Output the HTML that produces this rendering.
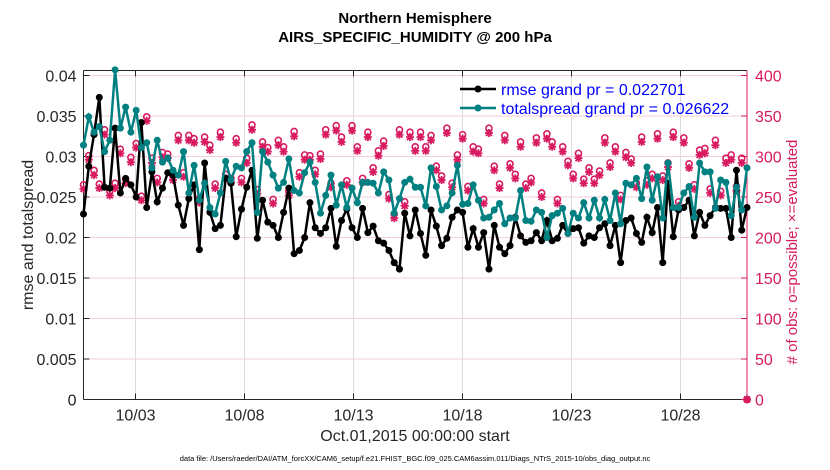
<!DOCTYPE html>
<html><head><meta charset="utf-8"><style>
body{margin:0;background:#fff;}
svg{display:block;font-family:"Liberation Sans",sans-serif;}
</style></head><body>
<svg id="chart" width="830" height="470"></svg>
<script>
const rmse=[22.9,28.8,32.7,37.3,26.2,26.1,33.5,25.5,27.3,26.5,25.0,34.2,23.7,28.1,24.4,26.1,28.0,27.7,24.0,21.5,24.8,26.5,18.5,29.2,23.1,21.1,21.5,27.3,26.7,20.1,23.5,26.2,28.3,
19.9,24.6,21.9,21.5,20.0,23.1,26.1,18.0,18.4,20.0,24.3,21.2,20.5,21.2,23.6,18.9,22.1,23.5,21.2,20.0,23.6,20.6,21.4,19.6,19.3,18.4,16.9,16.1,23.0,20.2,23.4,
20.5,17.8,23.4,21.4,19.0,19.9,22.5,23.4,23.1,18.8,21.1,18.8,20.6,16.1,21.5,18.8,18.0,19.0,22.5,20.2,19.4,19.6,20.6,19.6,22.1,19.6,19.9,21.5,20.5,21.1,21.2,19.3,20.2,
20.0,21.2,21.7,19.0,21.5,16.9,22.1,22.4,20.5,19.4,22.5,20.6,23.7,16.9,26.7,20.1,23.4,23.7,24.6,20.2,23.1,21.5,22.7,23.7,23.6,23.6,20.0,28.3,20.9,23.7];
const spread=[31.4,34.9,33.0,33.7,30.6,32.0,40.7,33.5,36.1,33.0,35.7,31.1,31.7,28.6,32.0,29.3,29.8,28.3,27.7,30.6,25.5,28.9,24.6,26.7,23.7,22.9,25.5,29.4,27.1,28.8,28.6,30.6,31.7,
23.1,30.6,29.3,27.7,26.1,26.8,29.7,25.8,25.5,28.0,29.3,26.8,23.0,25.2,27.7,24.0,26.5,23.7,26.1,24.3,26.8,26.8,26.7,25.5,28.1,27.1,23.0,24.8,26.8,27.2,26.2,
26.2,23.9,28.6,26.3,23.4,23.9,25.5,28.9,24.1,24.2,26.5,24.6,22.4,22.5,23.4,24.2,21.7,22.4,22.4,25.8,22.1,22.0,23.4,23.1,20.0,22.7,23.0,23.6,20.5,23.0,22.4,24.3,22.4,
24.6,22.4,24.7,22.1,25.5,21.7,26.7,26.5,27.3,24.8,28.7,24.6,27.5,22.4,29.2,23.7,23.7,25.5,26.3,22.5,29.2,28.1,28.1,23.6,27.1,26.8,22.7,26.2,23.4,28.6];
const evaluated=[260,296,277,261,327,252,261,304,267,293,311,246,344,292,268,299,298,271,320,275,320,317,243,318,308,261,324,273,268,317,268,292,333,
254,312,306,242,314,306,252,325,275,296,296,278,297,327,262,332,318,265,332,307,268,324,281,301,313,248,224,327,239,324,307,
324,307,320,283,271,329,262,296,322,258,306,304,242,329,283,261,320,286,273,312,261,268,317,250,322,312,242,306,289,273,298,267,281,
267,277,317,287,306,247,299,292,262,318,265,273,322,271,287,324,239,317,286,260,302,304,255,314,252,292,296,258,292,0];
const possible=[265,301,283,266,333,257,267,309,272,299,316,251,349,298,273,305,303,276,326,280,326,322,248,324,314,266,330,278,273,322,273,298,339,
259,318,311,247,320,312,257,331,280,302,301,283,303,333,267,338,324,270,338,312,273,330,286,307,319,253,229,333,244,330,312,
330,312,326,288,276,335,267,302,327,263,312,309,247,335,288,266,326,291,278,318,266,273,323,255,328,318,247,312,294,278,304,272,286,
272,282,323,292,312,252,305,297,267,324,270,278,328,276,292,330,244,323,291,265,308,310,260,320,257,298,302,263,298,0];
const leftTicks=[0,0.005,0.01,0.015,0.02,0.025,0.03,0.035,0.04];
const leftLabels=["0","0.005","0.01","0.015","0.02","0.025","0.03","0.035","0.04"];
const rightTicks=[0,50,100,150,200,250,300,350,400];
const xTickDays=[2,7,12,17,22,27];
const xTickLabels=["10/03","10/08","10/13","10/18","10/23","10/28"];

const NS="http://www.w3.org/2000/svg";
const svg=document.getElementById('chart');
const L=83.5,R=747,T=70.5,B=399.5;
const yL=v=>B-(v/0.04)*(B-75.5);
const yR=v=>B-(v/400)*(B-75.5);
const xI=i=>L+i*(R-L)/126;
const xD=d=>135.5+(d-2)*21.8;
function mk(tag,attrs,parent){const e=document.createElementNS(NS,tag);for(const k in attrs)e.setAttribute(k,attrs[k]);(parent||svg).appendChild(e);return e;}
function txt(s,attrs,parent){const e=mk('text',attrs,parent);e.textContent=s;return e;}

const grid=mk('g',{});


leftTicks.forEach(v=>{if(v>0)mk('line',{x1:L,x2:R,y1:yL(v),y2:yL(v),stroke:'#f3cfe0','stroke-width':1},grid);});
xTickDays.forEach(d=>mk('line',{x1:xD(d),x2:xD(d),y1:T,y2:B,stroke:'#dcdcdc','stroke-width':1},grid));

const ax=mk('g',{});


mk('line',{x1:L,x2:R,y1:T,y2:T,stroke:'#262626','stroke-width':1},ax);
mk('line',{x1:L,x2:R,y1:B,y2:B,stroke:'#262626','stroke-width':1},ax);
mk('line',{x1:L,x2:L,y1:T,y2:B,stroke:'#262626','stroke-width':1},ax);
mk('line',{x1:R,x2:R,y1:T,y2:B,stroke:'#d81b60','stroke-width':1},ax);
leftTicks.forEach((v,i)=>{
  mk('line',{x1:L,x2:L+6,y1:yL(v),y2:yL(v),stroke:'#262626'},ax);
  const t=txt(leftLabels[i],{x:L-7,y:yL(v)+6,'text-anchor':'end','font-size':16,fill:'#262626'},ax);
  
  
});
rightTicks.forEach(v=>{
  mk('line',{x1:R-6,x2:R,y1:yR(v),y2:yR(v),stroke:'#d81b60'},ax);
  const t=txt(String(v),{x:R+8,y:yR(v)+6,'font-size':16,fill:'#d81b60'},ax);
  
  
});
xTickDays.forEach((d,i)=>{
  mk('line',{x1:xD(d),x2:xD(d),y1:B,y2:B-6,stroke:'#262626'},ax);
  mk('line',{x1:xD(d),x2:xD(d),y1:T,y2:T+6,stroke:'#262626'},ax);
  const t=txt(xTickLabels[i],{x:xD(d),y:B+21,'text-anchor':'middle','font-size':16,fill:'#262626'},ax);
  
  
});

const obs=mk('g',{});


possible.forEach((v,i)=>{
  const c=mk('circle',{cx:xI(i),cy:yR(v),r:3,fill:'none',stroke:'#d81b60','stroke-width':1.6},obs);
  
  
});
evaluated.forEach((v,i)=>{
  const x=xI(i),y=yR(v);
  const g=mk('g',{stroke:'#d81b60','stroke-width':1.8},obs);
  
  
  mk('line',{x1:x-4,x2:x+4,y1:y,y2:y},g);
  mk('line',{x1:x,x2:x,y1:y-4,y2:y+4},g);
  mk('line',{x1:x-3,x2:x+3,y1:y-3,y2:y+3},g);
  mk('line',{x1:x-3,x2:x+3,y1:y+3,y2:y-3},g);
  mk('circle',{cx:x,cy:y,r:2,fill:'#d81b60',stroke:'none'},g);
});

function series(arr,color,name){
  const g=mk('g',{});
  
  
  const pts=arr.map((v,i)=>xI(i).toFixed(1)+','+yL(v/1000).toFixed(1)).join(' ');
  mk('polyline',{points:pts,fill:'none',stroke:color,'stroke-width':2.5},g);
  arr.forEach((v,i)=>{
    const c=mk('circle',{cx:xI(i),cy:yL(v/1000),r:3.5,fill:color},g);
    
    
  });
}
series(rmse,'#000000','rmse-line');
series(spread,'#008080','totalspread-line');

const lg=mk('g',{});


[['#000000','rmse grand pr = 0.022701',89],['#008080','totalspread grand pr = 0.026622',108]].forEach(([c,s,y])=>{
  mk('line',{x1:460,x2:496,y1:y,y2:y,stroke:c,'stroke-width':2.5},lg);
  mk('circle',{cx:478,cy:y,r:3.5,fill:c},lg);
  const t=txt(s,{x:501,y:y+6,'font-size':16,fill:'#0000ff'},lg);
  
  
});

const t1=txt('Northern Hemisphere',{x:415,y:23,'text-anchor':'middle','font-size':15,'font-weight':'bold',fill:'#000'});


const t2=txt('AIRS_SPECIFIC_HUMIDITY @ 200 hPa',{x:415,y:42,'text-anchor':'middle','font-size':15,'font-weight':'bold',fill:'#000'});


const xl=txt('Oct.01,2015 00:00:00 start',{x:415,y:441,'text-anchor':'middle','font-size':16,fill:'#262626'});


const yl=txt('rmse and totalspread',{x:0,y:0,'text-anchor':'middle','font-size':16,fill:'#262626',transform:'translate(33,235) rotate(-90)'});


const yr=txt('# of obs: o=possible; \u00d7=evaluated',{x:0,y:0,'text-anchor':'middle','font-size':15,fill:'#d81b60',transform:'translate(797,252) rotate(-90)'});


const df=txt('data file: /Users/raeder/DAI/ATM_forcXX/CAM6_setup/f.e21.FHIST_BGC.f09_025.CAM6assim.011/Diags_NTrS_2015-10/obs_diag_output.nc',{x:415,y:461,'text-anchor':'middle','font-size':7.5,fill:'#000'});


</script>
</body></html>
